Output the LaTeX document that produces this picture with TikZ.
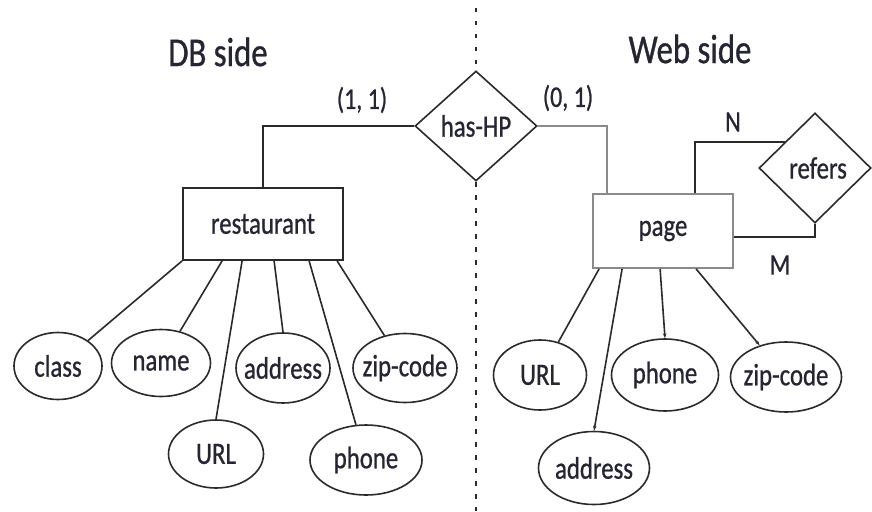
\documentclass[tikz,border=0pt]{standalone}
\usepackage{fontspec}
\setmainfont[FakeStretch=0.8,FakeBold=0.8]{Carlito}
\usetikzlibrary{shapes.geometric,calc,arrows.meta}
\definecolor{txt}{HTML}{262633}
\definecolor{ln}{HTML}{2A2A2A}
\definecolor{gr}{HTML}{8A8A8A}
\begin{document}
\begin{tikzpicture}[x=1pt,y=-1pt,
  every node/.style={text=txt,font=\fontsize{31}{34}\selectfont},
  ent/.style={draw=ln,line width=1.8pt,rectangle,inner sep=0pt},
  attr/.style={draw=ln,line width=1.6pt,ellipse,inner xsep=-25pt,inner ysep=-12pt},
  rel/.style={draw=ln,line width=1.6pt,diamond,inner sep=0pt},
  conn/.style={draw=ln,line width=1.6pt},
  tip/.style={-{Stealth[length=5pt,width=3.5pt]}},
  title/.style={font=\fontsize{41}{44}\selectfont},
  card/.style={font=\fontsize{30}{33}\selectfont}]
\useasboundingbox[fill=white] (0,0) rectangle (872,511);
% divider
\draw[ln,line width=1.4pt,dash pattern=on 4.5pt off 8.5pt] (476,8) -- (476,70);
\draw[ln,line width=1.4pt,dash pattern=on 4.5pt off 8.5pt] (476,182) -- (476,511);
% titles
\node[title] (dbt) at (218,52) {DB side};
\node[title] (wbt) at (690,49) {Web side};
% relationships
\node[rel,minimum width=122pt,minimum height=110pt] (hp) at (476,126) {has-HP};
\node[rel,minimum width=112pt,minimum height=110pt] (refers) at (815,168) {\hspace*{6pt}refers};
% entities
\node[ent,minimum width=160pt,minimum height=72pt] (rest) at (263,224) {restaurant};
\node[ent,draw=gr,minimum width=140pt,minimum height=74pt] (page) at (663,231) {page};
% cardinalities
\node[card] (c11) at (362,100) {(1, 1)};
\node[card] (c01) at (568,98) {(0, 1)};
\node[card] (cn) at (733,122) {N};
\node[card] (cm) at (780,265) {M};
% relationship links
\draw[conn] (hp.west) -| (rest.north);
\draw[conn,draw=gr] (hp.east) -| ($(page.north west)+(15,0)$);
\coordinate (nend) at ($(refers.west)!0.47!(refers.north)$);
\draw[conn] ($(page.north west)+(103,0)$) |- (nend);
\draw[conn] ($(page.east)+(0,6)$) -| (refers.south);
% DB attributes
\node[attr,minimum width=88pt,minimum height=67pt] (cls) at (58,366) {class};
\node[attr,minimum width=99pt,minimum height=67pt] (nm) at (161,363) {name};
\node[attr,minimum width=94pt,minimum height=70pt] (addr) at (283,368) {address};
\node[attr,minimum width=104pt,minimum height=69pt] (zip) at (405,368) {zip-code};
\node[attr,minimum width=95pt,minimum height=68pt] (url) at (216,454) {URL};
\node[attr,minimum width=112pt,minimum height=70pt] (ph) at (366,460) {phone};
\draw[conn] (rest.south west) -- (cls);
\draw[conn] ($(rest.south west)+(40,0)$) -- (nm);
\draw[conn] ($(rest.south west)+(60,0)$) -- (url.north);
\draw[conn] ($(rest.south west)+(92,0)$) -- (addr.north);
\draw[conn] ($(rest.south west)+(127,0)$) -- (ph);
\draw[conn] ($(rest.south west)+(155,0)$) -- (zip);
% Web attributes
\node[attr,minimum width=93pt,minimum height=70pt] (wurl) at (540,375) {URL};
\node[attr,minimum width=107pt,minimum height=72pt] (wph) at (665,375) {phone};
\node[attr,minimum width=111pt,minimum height=70pt] (wzip) at (786,377) {zip-code};
\node[attr,minimum width=111pt,minimum height=73pt] (waddr) at (594,468) {address};
\draw[conn] ($(page.south west)+(7,0)$) -- (wurl);
\draw[conn,tip] ($(page.south west)+(30,0)$) -- (waddr.north);
\draw[conn,tip] ($(page.south west)+(68,0)$) -- (wph.north);
\draw[conn,tip] ($(page.south west)+(104,0)$) -- (wzip);
\end{tikzpicture}
\end{document}
